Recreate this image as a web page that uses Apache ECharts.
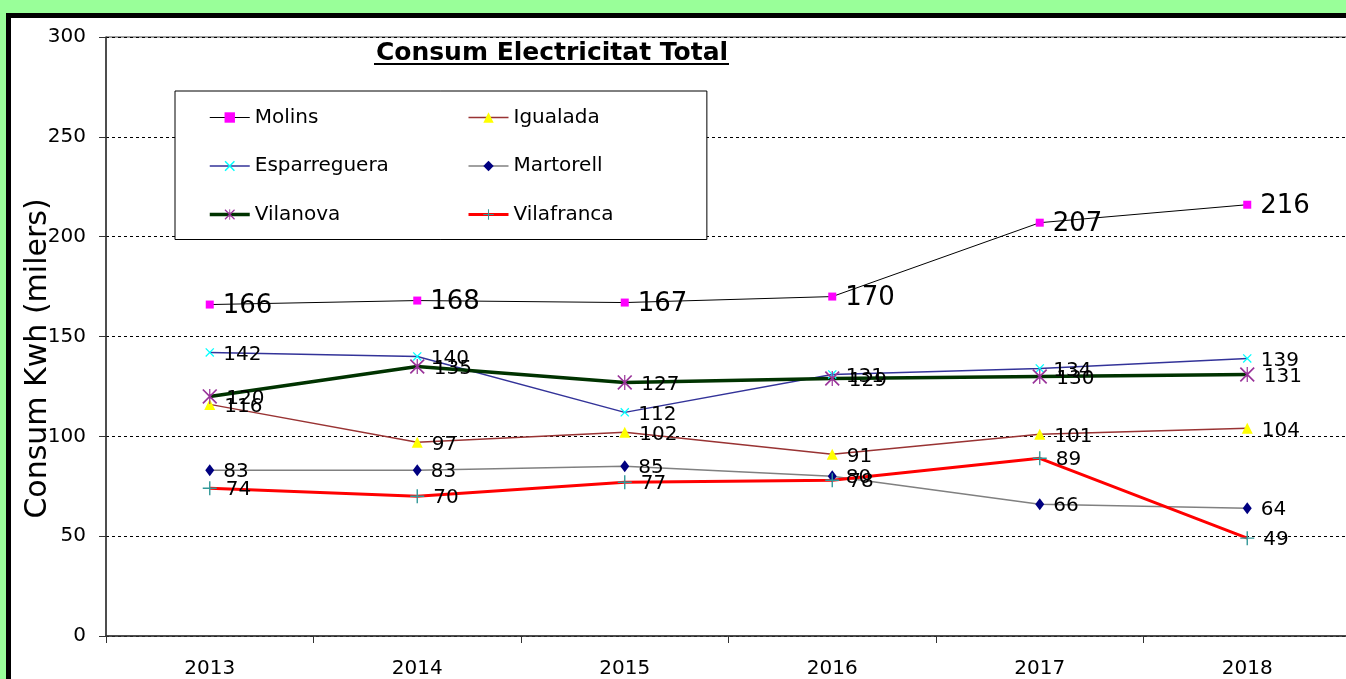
<!DOCTYPE html>
<html>
<head>
<meta charset="utf-8">
<script src="https://cdn.jsdelivr.net/npm/echarts@6/dist/echarts.min.js"></script>
<style>
html,body{margin:0;padding:0;width:1346px;height:679px;overflow:hidden;background:#99ff99;}
#frame{position:absolute;left:6px;top:13px;right:-20px;bottom:-20px;background:#fff;border-left:5px solid #000;border-top:5px solid #000;}
#chart{position:absolute;left:0;top:0;width:1400px;height:679px;}
</style>
</head>
<body>
<div id="frame"></div>
<div id="chart"></div>
<script>
const years = ['2013','2014','2015','2016','2017','2018'];
const molins = [166,168,167,170,207,216];
const igualada = [116,97,102,91,101,104];
const esparreguera = [142,140,112,131,134,139];
const martorell = [83,83,85,80,66,64];
const vilanova = [120,135,127,129,130,131];
const vilafranca = [74,70,77,78,89,49];
const yTicks = {min:0, max:300, interval:50};

const FONT = 'DejaVu Sans';
const xPath = 'path://M0,1L1,0L10,9L9,10Z M9,0L10,1L1,10L0,9Z';
const starPath = 'path://M0,0.8L0.8,0L10,9.2L9.2,10Z M9.2,0L10,0.8L0.8,10L0,9.2Z M4.6,0H5.4V10H4.6Z';
const plusPath = 'path://M4.5,0H5.5V10H4.5Z M0,4.5H10V5.5H0Z';

function mk(name, data, lineColor, lineWidth, symbol, symSize, symColor, fs){
  return {
    name: name, type:'line', data: data,
    symbol: symbol, symbolSize: symSize,
    lineStyle:{color: lineColor, width: lineWidth},
    itemStyle:{color: symColor},
    label:{show:true, position:'right', distance:9, offset:[0,2], color:'#000', fontFamily:FONT, fontSize: fs||20},
    emphasis:{disabled:true},
    animation:false
  };
}

const legendCommon = {
  orient:'vertical', top:91, itemGap:28.5, itemWidth:40, itemHeight:13,
  lineStyle:{width:'inherit'},
  textStyle:{fontFamily:FONT, fontSize:20, color:'#000'}
};

const chart = echarts.init(document.getElementById('chart'), null, {renderer:'canvas'});
chart.setOption({
  backgroundColor:'transparent',
  animation:false,
  title:{
    text:'Consum Electricitat Total', left:547, top:36, textAlign:'center',
    textStyle:{fontFamily:FONT, fontSize:25, fontWeight:'bold', color:'#000'}
  },
  graphic:[{type:'rect', shape:{x:374, y:63, width:355, height:2}, style:{fill:'#000'}}],
  legend:[Object.assign({}, legendCommon, {
    left:175, padding:[16.5,318,15,33],
    borderColor:'#000', borderWidth:1, backgroundColor:'#fff',
    data:['Molins','Esparreguera','Vilanova']
  }), Object.assign({}, legendCommon, {
    left:467, padding:[16.5,0,15,0],
    data:['Igualada','Martorell','Vilafranca']
  })],
  grid:{left:106, top:37, width:1245, height:599, show:true, borderColor:'#444', borderWidth:1, containLabel:false},
  xAxis:{
    type:'category', data: years, boundaryGap:true,
    axisLine:{lineStyle:{color:'#333', width:1.5}},
    axisTick:{show:true, length:7, lineStyle:{color:'#333'}},
    axisLabel:{color:'#000', fontFamily:FONT, fontSize:20, margin:23},
    splitLine:{show:false}
  },
  yAxis:{
    type:'value', min:yTicks.min, max:yTicks.max, interval:yTicks.interval,
    name:'Consum Kwh (milers)', nameLocation:'middle', nameGap:53, nameRotate:90,
    nameMoveOverlap:false,
    nameTextStyle:{fontFamily:FONT, fontSize:30, color:'#000', padding:[0,44,0,0]},
    axisLine:{show:true, lineStyle:{color:'#333', width:1.5}},
    axisTick:{show:true, length:7, lineStyle:{color:'#333'}},
    axisLabel:{color:'#000', fontFamily:FONT, fontSize:20, margin:20},
    splitLine:{show:true, lineStyle:{color:'#000', type:[3,3], width:1}}
  },
  series:[
    mk('Molins', molins, '#000000', 1, 'rect', 8, '#ff00ff', 26),
    mk('Igualada', igualada, '#993333', 1.5, 'triangle', 11, '#ffff00'),
    mk('Esparreguera', esparreguera, '#333399', 1.5, xPath, 9, '#00ffff'),
    mk('Martorell', martorell, '#808080', 1.5, 'diamond', [9,12], '#000080'),
    mk('Vilanova', vilanova, '#003300', 3.5, starPath, 15, '#993399'),
    mk('Vilafranca', vilafranca, '#ff0000', 3, plusPath, 14, '#339999')
  ]
});
</script>
</body>
</html>
